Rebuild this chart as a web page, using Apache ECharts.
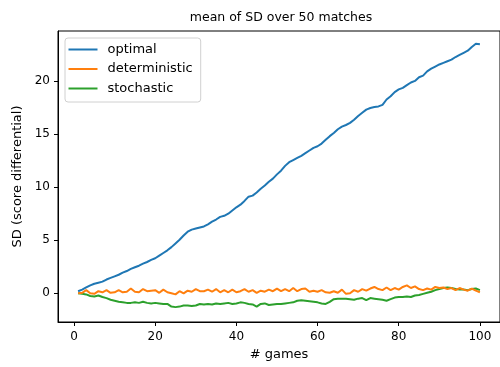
<!DOCTYPE html>
<html>
<head>
<meta charset="utf-8">
<script src="https://cdn.jsdelivr.net/npm/echarts@6/dist/echarts.min.js"></script>
<style>html,body{margin:0;padding:0;background:#fff}#c{width:500px;height:367px}</style>
</head>
<body>
<div id="c"></div>
<script>
const games = Array.from({length: 100}, (_, i) => i + 1);
const optimal = [0.2,0.35,0.55,0.75,0.9,1.0,1.1,1.3,1.45,1.6,1.75,1.95,2.1,2.3,2.45,2.6,2.8,2.95,3.15,3.3,
  3.55,3.8,4.05,4.35,4.7,5.05,5.45,5.8,6.0,6.1,6.2,6.3,6.5,6.75,6.95,7.2,7.3,7.5,7.8,8.1,
  8.35,8.7,9.1,9.2,9.5,9.85,10.15,10.5,10.8,11.2,11.55,12.0,12.35,12.55,12.75,12.95,13.2,13.45,13.7,13.85,
  14.1,14.45,14.8,15.1,15.45,15.7,15.85,16.05,16.35,16.7,17.0,17.3,17.45,17.55,17.6,17.75,18.25,18.55,18.95,19.2,
  19.35,19.6,19.85,20.0,20.35,20.5,20.9,21.15,21.35,21.55,21.7,21.85,22.0,22.25,22.45,22.65,22.85,23.2,23.5,23.45];
const deterministic = [0.0,0.05,0.3,0.0,-0.05,0.2,0.1,0.3,0.05,0.1,0.3,0.1,0.15,0.45,0.15,0.1,0.4,0.2,0.25,0.3,
  0.05,0.35,0.1,0.0,-0.1,0.2,0.0,0.25,0.15,0.4,0.2,0.2,0.35,0.15,0.4,0.1,0.3,0.1,0.35,0.1,
  0.2,0.4,0.15,0.3,0.05,0.25,0.15,0.35,0.2,0.45,0.2,0.4,0.2,0.5,0.2,0.4,0.45,0.15,0.25,0.15,
  0.3,0.1,0.05,0.2,0.05,0.35,-0.05,0.0,0.3,0.15,0.4,0.25,0.45,0.6,0.4,0.3,0.55,0.3,0.5,0.35,
  0.6,0.75,0.5,0.65,0.4,0.3,0.45,0.35,0.6,0.5,0.55,0.4,0.5,0.3,0.5,0.35,0.25,0.45,0.25,0.1];
const stochastic = [0.0,-0.05,-0.1,-0.25,-0.3,-0.2,-0.35,-0.45,-0.6,-0.7,-0.8,-0.85,-0.9,-0.9,-0.85,-0.9,-0.8,-0.9,-0.95,-0.9,
  -0.95,-1.0,-1.0,-1.25,-1.3,-1.25,-1.15,-1.15,-1.2,-1.15,-1.0,-1.05,-1.0,-1.05,-0.95,-1.0,-0.95,-0.9,-1.0,-0.95,
  -0.85,-0.9,-1.0,-1.05,-1.25,-1.0,-0.95,-1.1,-1.05,-1.0,-1.0,-0.95,-0.9,-0.85,-0.7,-0.65,-0.7,-0.75,-0.8,-0.85,
  -0.95,-1.0,-0.8,-0.55,-0.5,-0.5,-0.5,-0.55,-0.6,-0.5,-0.45,-0.65,-0.45,-0.5,-0.55,-0.6,-0.7,-0.55,-0.4,-0.35,
  -0.35,-0.3,-0.35,-0.2,-0.15,-0.05,0.05,0.15,0.3,0.4,0.5,0.55,0.5,0.4,0.35,0.35,0.3,0.4,0.45,0.3];
const xTicks = [0, 20, 40, 60, 80, 100];
const yTicks = [0, 5, 10, 15, 20];
const seriesNames = ['optimal', 'deterministic', 'stochastic'];
const colors = ['#1f77b4', '#ff7f0e', '#2ca02c'];

const FONT = 'DejaVu Sans';
const chart = echarts.init(document.getElementById('c'), null, {renderer: 'canvas'});
const pair = arr => games.map((g, i) => [g, arr[i]]);
const allSeries = [optimal, deterministic, stochastic];
chart.setOption({
  animation: false,
  backgroundColor: '#fff',
  title: {
    text: 'mean of SD over 50 matches',
    left: 276, top: 6, textAlign: 'center',
    textStyle: {fontFamily: FONT, fontSize: 12.5, fontWeight: 'normal', color: '#000'}
  },
  legend: {
    orient: 'vertical', left: 65, top: 38,
    data: seriesNames,
    icon: 'rect', itemWidth: 29, itemHeight: 2, itemGap: 6.5,
    padding: [5, 8, 7, 3.5],
    backgroundColor: 'rgba(255,255,255,0.8)',
    borderColor: '#d0d0d0', borderWidth: 1, borderRadius: 3,
    textStyle: {fontFamily: FONT, fontSize: 13, color: '#000', lineHeight: 13, padding: [0, 0, 0, 5]}
  },
  grid: {left: 58, top: 31, width: 446.7, height: 291, show: true, borderColor: '#000', borderWidth: 1, containLabel: false},
  xAxis: {
    type: 'value', min: -3.95, max: 104.95,
    name: '# games', nameLocation: 'middle', nameGap: 26,
    nameTextStyle: {fontFamily: FONT, fontSize: 13, color: '#000'},
    axisLine: {show: true, onZero: false, lineStyle: {color: '#000', width: 1}},
    axisTick: {show: true, length: 4, lineStyle: {color: '#000'}, customValues: xTicks},
    axisLabel: {fontFamily: FONT, fontSize: 12, color: '#000', margin: 9, customValues: xTicks},
    splitLine: {show: false}
  },
  yAxis: {
    type: 'value', min: -2.7, max: 24.7,
    name: 'SD (score differential)', nameLocation: 'middle', nameGap: 33, nameRotate: 90,
    nameTextStyle: {fontFamily: FONT, fontSize: 13, color: '#000'},
    axisLine: {show: true, onZero: false, lineStyle: {color: '#000', width: 1}},
    axisTick: {show: true, length: 4, lineStyle: {color: '#000'}, customValues: yTicks},
    axisLabel: {fontFamily: FONT, fontSize: 12, color: '#000', margin: 8, customValues: yTicks},
    splitLine: {show: false}
  },
  series: seriesNames.map((n, k) => ({
    name: n, type: 'line', data: pair(allSeries[k]), showSymbol: false, symbol: 'none',
    color: colors[k], lineStyle: {width: 2, color: colors[k]}, z: 3 - k
  }))
});
</script>
</body>
</html>
